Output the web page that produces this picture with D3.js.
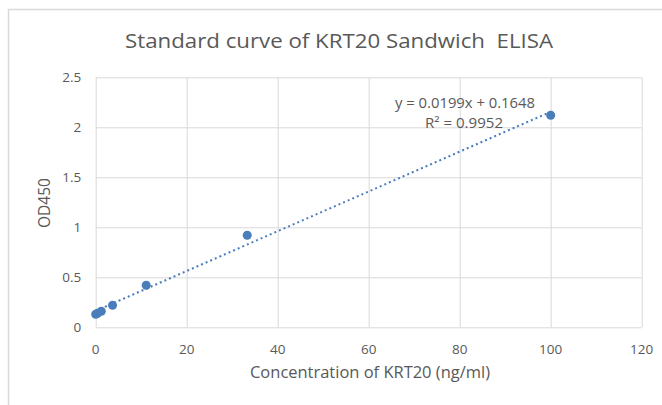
<!DOCTYPE html>
<html>
<head>
<meta charset="utf-8">
<script src="https://cdn.jsdelivr.net/npm/d3@7"></script>
<style>
  body { margin: 0; background: #fff; }
  text { font-family: "Open Sans", "Noto Sans", sans-serif; fill: #595959; }
</style>
</head>
<body>
<script>
// ---------------- DATA ----------------
var concentration = [0, 0.41, 1.23, 3.7, 11.1, 33.3, 100]
var od450 = [0.13, 0.14, 0.16, 0.22, 0.42, 0.92, 2.12]
var xTicks = [0, 20, 40, 60, 80, 100, 120]
var yTicks = [0, 0.5, 1, 1.5, 2, 2.5]
var slope = 0.0199
var intercept = 0.1648
var rSquared = 0.9952

// ---------------- SVG ----------------
var width = 662
var height = 405
var margin = {left: 95.7, right: 20.3, top: 77.3, bottom: 77.7}

var svg = d3.select('body')
  .append('svg')
  .attr('width', width)
  .attr('height', height)

svg.append('rect')
  .attr('width', width)
  .attr('height', height)
  .attr('fill', '#fff')

// chart border
svg.append('rect')
  .attr('x', 8.5)
  .attr('y', 9.5)
  .attr('width', 700)
  .attr('height', 500)
  .attr('fill', 'none')
  .attr('stroke', '#d9d9d9')
  .attr('stroke-width', 1.5)

var x = d3.scaleLinear().domain([0, 120]).range([margin.left, width - margin.right])
var y = d3.scaleLinear().domain([0, 2.5]).range([height - margin.bottom, margin.top])

// ---------------- GRID ----------------
svg.append('g')
  .attr('transform', 'translate(0,' + (height - margin.bottom) + ')')
  .call(d3.axisBottom(x).tickValues(xTicks).tickSize(-(y(0) - y(2.5))).tickFormat(''))
  .call(function(g){ g.select('.domain').remove() })
  .selectAll('line').attr('stroke', '#d9d9d9')

svg.append('g')
  .attr('transform', 'translate(' + margin.left + ',0)')
  .call(d3.axisLeft(y).tickValues(yTicks).tickSize(-(x(120) - x(0))).tickFormat(''))
  .call(function(g){ g.select('.domain').remove() })
  .selectAll('line').attr('stroke', '#d9d9d9')

// tick labels
svg.append('g')
  .selectAll('text')
  .data(xTicks)
  .enter()
  .append('text')
  .attr('x', function(d){ return x(d) })
  .attr('y', y(0) + 27)
  .attr('text-anchor', 'middle')
  .style('font-size', '13.5px')
  .text(function(d){ return d })

svg.append('g')
  .selectAll('text')
  .data(yTicks)
  .enter()
  .append('text')
  .attr('x', margin.left - 14.5)
  .attr('y', function(d){ return y(d) + 5 })
  .attr('text-anchor', 'end')
  .style('font-size', '13.5px')
  .text(function(d){ return d })

// ---------------- TRENDLINE ----------------
svg.append('line')
  .attr('x1', x(0))
  .attr('y1', y(intercept))
  .attr('x2', x(100))
  .attr('y2', y(intercept + slope * 100))
  .attr('stroke', '#4a7ebb')
  .attr('stroke-width', 2)
  .attr('stroke-dasharray', '2,3')

// ---------------- POINTS ----------------
svg.append('g')
  .selectAll('circle')
  .data(concentration)
  .enter()
  .append('circle')
  .attr('cx', function(d){ return x(d) })
  .attr('cy', function(d, i){ return y(od450[i]) })
  .attr('r', 4.5)
  .attr('fill', '#4a7ebb')

// ---------------- TEXT ----------------
svg.append('text')
  .attr('x', 339)
  .attr('y', 48)
  .attr('text-anchor', 'middle')
  .attr('textLength', 428)
  .attr('lengthAdjust', 'spacingAndGlyphs')
  .style('font-size', '19.5px')
  .style('white-space', 'pre')
  .text('Standard curve of KRT20 Sandwich  ELISA')

svg.append('text')
  .attr('x', 465)
  .attr('y', 108.3)
  .attr('text-anchor', 'middle')
  .attr('textLength', 140)
  .attr('lengthAdjust', 'spacingAndGlyphs')
  .style('font-size', '14px')
  .text('y = ' + slope + 'x + ' + intercept)

svg.append('text')
  .attr('x', 464)
  .attr('y', 128.3)
  .attr('text-anchor', 'middle')
  .attr('textLength', 78)
  .attr('lengthAdjust', 'spacingAndGlyphs')
  .style('font-size', '14px')
  .text('R\u00b2 = ' + rSquared)

svg.append('text')
  .attr('x', 370)
  .attr('y', 378.3)
  .attr('text-anchor', 'middle')
  .attr('textLength', 240)
  .attr('lengthAdjust', 'spacingAndGlyphs')
  .style('font-size', '16px')
  .text('Concentration of KRT20 (ng/ml)')

svg.append('text')
  .attr('transform', 'translate(50,203) rotate(-90)')
  .attr('text-anchor', 'middle')
  .attr('textLength', 50)
  .attr('lengthAdjust', 'spacingAndGlyphs')
  .style('font-size', '16px')
  .text('OD450')
</script>
</body>
</html>
